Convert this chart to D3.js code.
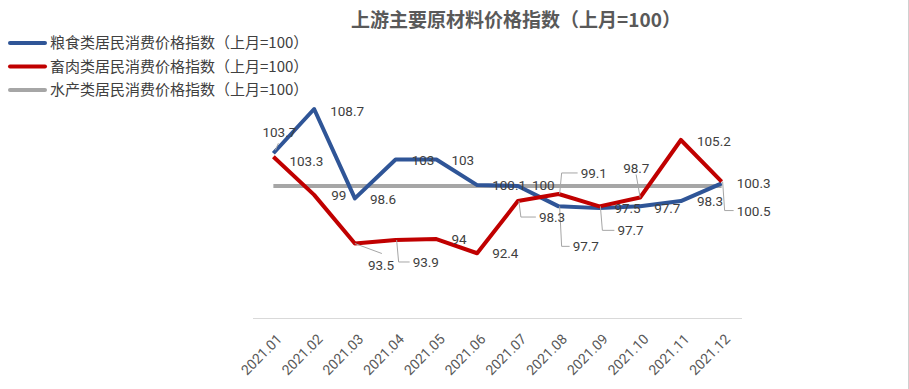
<!DOCTYPE html>
<html>
<head>
<meta charset="utf-8">
<script src="https://cdn.jsdelivr.net/npm/d3@7"></script>
<style>
  body { margin: 0; background: #fff; }
  svg { display: block; font-family: "Noto Sans CJK SC", "Noto Sans", sans-serif; }
</style>
</head>
<body>
<svg id="chart" width="909" height="389"></svg>
<script>
// months on the x axis
var months = ["2021.01", "2021.02", "2021.03", "2021.04", "2021.05", "2021.06",
              "2021.07", "2021.08", "2021.09", "2021.10", "2021.11", "2021.12"];

// 粮食类 (blue)
var grainValues = [103.7, 108.7, 98.6, 103, 103, 100.1, 100, 97.7, 97.5, 97.7, 98.3, 100.3];
// 畜肉类 (red)
var meatValues = [103.3, 99, 93.5, 93.9, 94, 92.4, 98.3, 99.1, 97.7, 98.7, 105.2, 100.5];
// 水产类 (gray)
var fishValues = [100, 100, 100, 100, 100, 100, 100, 100, 100, 100, 100, 100];

var seriesNames = ["粮食类居民消费价格指数（上月=100）",
                   "畜肉类居民消费价格指数（上月=100）",
                   "水产类居民消费价格指数（上月=100）"];

var title = "上游主要原材料价格指数（上月=100）";

// label placement: [dx, dy, leader?] relative to the point
var grainLabelPos = [[-11, -16, true], [16, 7], [15, 6], [16, 6], [15, 6], [15, 5],
                     [14, 4], [14, 45, "v"], [15, 5], [14, 7], [16, 5], [15, 5]];
var meatLabelPos = [[16, 9], [17, 5], [13, 26, "d"], [17, 27, "v"], [15, 5], [15, 5],
                    [21, 21, "v"], [22, -16, "v"], [18, 29, "v"], [-17, -25, "u"], [16, 6], [15, 34, "v"]];

var colors = ["#2F5597", "#C00000", "#A6A6A6"];

var svg = d3.select("#chart");

var x = d3.scalePoint().domain(months).range([253, 742]).padding(0.5);
var y = d3.scaleLinear().domain([90, 110]).range([274.5, 97.5]);

// right border
svg.append("line")
  .attr("x1", 908.5).attr("x2", 908.5).attr("y1", 0).attr("y2", 389)
  .attr("stroke", "#d0d0d0").attr("stroke-width", 1);

// title
svg.append("text")
  .attr("x", 516).attr("y", 27)
  .attr("text-anchor", "middle")
  .attr("font-size", 19).attr("font-weight", "bold")
  .attr("fill", "#595959")
  .text(title);

// x axis
var xAxis = svg.append("g")
  .attr("transform", "translate(0,318)")
  .call(d3.axisBottom(x).tickSize(0).tickPadding(0));
xAxis.select(".domain").attr("stroke", "#d9d9d9").attr("d", "M253,0.5H742");
xAxis.selectAll("text")
  .attr("font-size", 14)
  .attr("fill", "#595959")
  .attr("font-family", "Roboto, 'Noto Sans', sans-serif")
  .attr("text-anchor", "end")
  .attr("dy", 0)
  .attr("transform", function() { return "translate(9,22) rotate(-45)"; });

var allSeries = [fishValues, grainValues, meatValues];
var seriesColor = [colors[2], colors[0], colors[1]];

var line = d3.line()
  .x(function(d, i) { return x(months[i]); })
  .y(function(d) { return y(d); });

allSeries.forEach(function(vals, k) {
  svg.append("path")
    .datum(vals)
    .attr("fill", "none")
    .attr("stroke", seriesColor[k])
    .attr("stroke-width", 4)
    .attr("stroke-linejoin", "round")
    .attr("d", line);
});

// data labels
function drawLabels(vals, pos) {
  var g = svg.append("g");
  vals.forEach(function(v, i) {
    var px = x(months[i]), py = y(v);
    var p = pos[i];
    var tx = px + p[0], ty = py + p[1];
    if (p[2] === "v") {
      var lx = p[0] > 0 ? tx - 3 : tx + 3;
      g.append("path")
        .attr("d", "M" + (px + 1) + "," + py + "L" + (px + 1 + (p[0] > 12 ? 2 : 0)) + "," + (ty - 5) + "H" + lx)
        .attr("fill", "none").attr("stroke", "#a6a6a6").attr("stroke-width", 1);
    } else if (p[2] === "d") {
      g.append("path")
        .attr("d", "M" + px + "," + py + "L" + (px + 27) + "," + (py + 10))
        .attr("fill", "none").attr("stroke", "#a6a6a6").attr("stroke-width", 1);
    } else if (p[2] === "u") {
      g.append("path")
        .attr("d", "M" + px + "," + py + "L" + (px - 4) + "," + (py - 23))
        .attr("fill", "none").attr("stroke", "#a6a6a6").attr("stroke-width", 1);
    } else if (p[2] === true) {
      g.append("path")
        .attr("d", "M" + (px + 2) + "," + (py - 3) + "L" + (px + 5) + "," + (py - 10))
        .attr("fill", "none").attr("stroke", "#a6a6a6").attr("stroke-width", 1);
    }
    g.append("text")
      .attr("x", tx).attr("y", ty)
      .attr("font-size", 13.5)
      .attr("font-family", "Roboto, 'Noto Sans', sans-serif")
      .attr("fill", "#404040")
      .text(v);
  });
}
drawLabels(grainValues, grainLabelPos);
drawLabels(meatValues, meatLabelPos);

// legend
var legend = svg.append("g");
seriesNames.forEach(function(name, i) {
  var ly = 43 + i * 23.5;
  legend.append("line")
    .attr("x1", 10).attr("x2", 45).attr("y1", ly).attr("y2", ly)
    .attr("stroke", colors[i]).attr("stroke-width", 4)
    .attr("stroke-linecap", "round");
  legend.append("text")
    .attr("x", 50).attr("y", ly + 5)
    .attr("font-size", 15)
    .attr("fill", "#404040")
    .text(name);
});
</script>
</body>
</html>
